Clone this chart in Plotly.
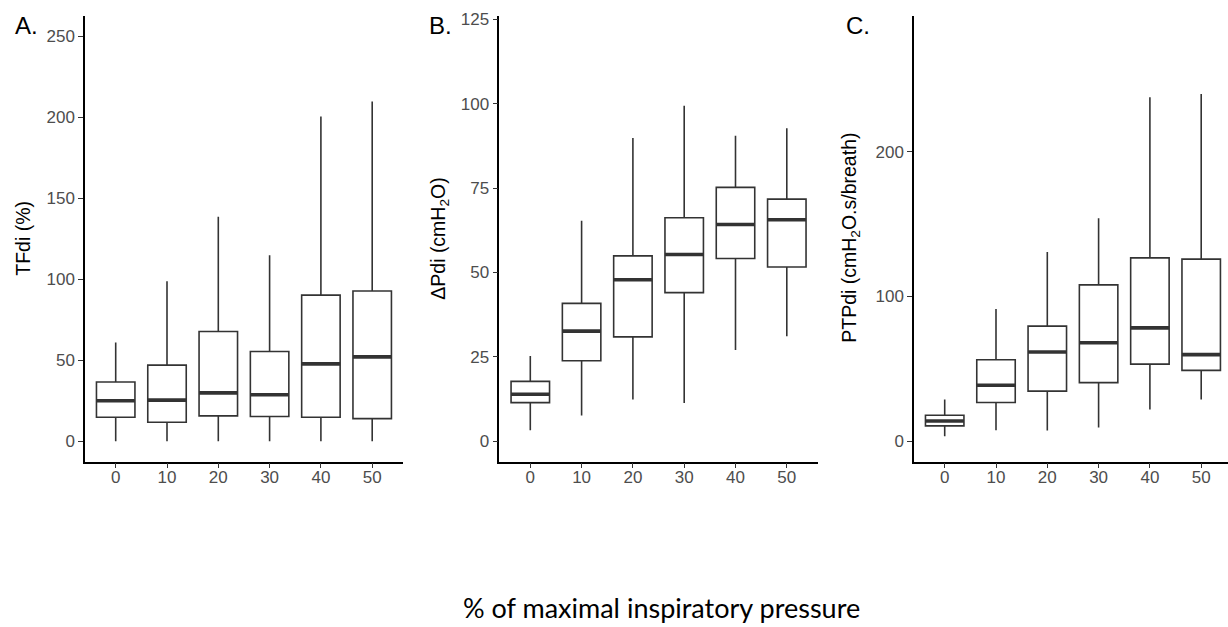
import plotly.graph_objects as go

categories = ["0", "10", "20", "30", "40", "50"]

# Panel A: TFdi (%)
tfdi_min = [0, 0, 0, 0, 0, 0]
tfdi_q1 = [14.9, 11.8, 15.7, 15.3, 14.9, 14.0]
tfdi_med = [25.0, 25.4, 29.9, 28.7, 47.8, 52.1]
tfdi_q3 = [36.6, 47.0, 67.8, 55.4, 90.2, 92.8]
tfdi_max = [61.0, 98.7, 138.6, 114.8, 200.5, 209.7]

# Panel B: ΔPdi (cmH2O)
dpdi_min = [3.2, 7.6, 12.3, 11.3, 27.0, 31.1]
dpdi_q1 = [11.4, 23.8, 30.9, 44.0, 54.1, 51.6]
dpdi_med = [13.9, 32.6, 47.8, 55.3, 64.2, 65.6]
dpdi_q3 = [17.7, 40.8, 54.9, 66.2, 75.2, 71.7]
dpdi_max = [25.2, 65.3, 89.8, 99.4, 90.5, 92.7]

# Panel C: PTPdi (cmH2O.s/breath)
ptp_min = [3.4, 7.5, 7.3, 9.4, 21.9, 28.8]
ptp_q1 = [10.5, 26.7, 34.5, 40.4, 53.2, 48.9]
ptp_med = [13.9, 38.6, 61.6, 68.0, 78.3, 59.8]
ptp_q3 = [17.8, 56.2, 79.5, 108.0, 126.7, 125.8]
ptp_max = [28.8, 91.3, 130.8, 154.1, 237.7, 240.0]

tfdi_ticks = [0, 50, 100, 150, 200, 250]
dpdi_ticks = [0, 25, 50, 75, 100, 125]
ptp_ticks = [0, 100, 200]

W, H = 1228, 627
LINE = "#333333"
BOXW = 0.75

fig = go.Figure()

panels = [
    ("x", "y", tfdi_min, tfdi_q1, tfdi_med, tfdi_q3, tfdi_max),
    ("x2", "y2", dpdi_min, dpdi_q1, dpdi_med, dpdi_q3, dpdi_max),
    ("x3", "y3", ptp_min, ptp_q1, ptp_med, ptp_q3, ptp_max),
]

idx = list(range(len(categories)))
for xa, ya, mn, q1, md, q3, mx in panels:
    fig.add_trace(go.Box(
        x=idx, q1=q1, median=md, q3=q3, lowerfence=mn, upperfence=mx,
        xaxis=xa, yaxis=ya, width=BOXW, whiskerwidth=0,
        fillcolor="white", line=dict(color=LINE, width=1.6),
        boxpoints=False, showlegend=False, hoverinfo="skip",
    ))
    # thick median segments
    mxs, mys = [], []
    for i, m in zip(idx, md):
        mxs += [i - BOXW / 2, i + BOXW / 2, None]
        mys += [m, m, None]
    fig.add_trace(go.Scatter(
        x=mxs, y=mys, mode="lines", xaxis=xa, yaxis=ya,
        line=dict(color=LINE, width=3.6), showlegend=False, hoverinfo="skip",
    ))

ydom = [(H - 460) / H, (H - 10) / H]
sp = 51.3
axis_common = dict(
    showline=True, linecolor="black", linewidth=1.5, showgrid=False, zeroline=False,
    ticks="outside", ticklen=5, tickwidth=1.3, tickcolor=LINE,
    tickfont=dict(family="Liberation Sans, Arial", size=17, color="#4D4D4D"),
)

def xaxis(left_px, right_px, first_px):
    r0 = (left_px - first_px) / sp
    return dict(domain=[left_px / W, min(right_px, W) / W],
                range=[r0, (min(right_px, W) - first_px) / sp],
                tickvals=idx, ticktext=categories, ticklabelstandoff=-6, **axis_common)

fig.update_layout(
    width=W, height=H, margin=dict(l=0, r=0, t=0, b=0),
    paper_bgcolor="white", plot_bgcolor="white",
    xaxis=xaxis(85, 403, 115.7),
    xaxis2=dict(xaxis(499.3, 817.6, 530.3), anchor="y2"),
    xaxis3=dict(xaxis(914, 1232, 944.7), anchor="y3"),
    yaxis=dict(domain=ydom, range=[-12.5, 262.5], tickvals=tfdi_ticks, anchor="x", **axis_common),
    yaxis2=dict(domain=ydom, range=[-6.07, 126.0], tickvals=dpdi_ticks, anchor="x2", **axis_common),
    yaxis3=dict(domain=ydom, range=[-14.2, 294.0], tickvals=ptp_ticks, anchor="x3", **axis_common),
)

title_font = dict(family="Liberation Sans, Arial", size=19.5, color="black")
ann = [
    dict(text="TFdi (%)", x=23 / W, y=1 - 235 / H, textangle=-90),
    dict(text="ΔPdi (cmH<sub>2</sub>O)", x=440 / W, y=1 - 235 / H, textangle=-90),
    dict(text="PTPdi (cmH<sub>2</sub>O.s/breath)", x=851 / W, y=1 - 234 / H, textangle=-90),
]
for a in ann:
    fig.add_annotation(xref="paper", yref="paper", showarrow=False,
                       xanchor="center", yanchor="middle", font=title_font, **a)

label_font = dict(family="Liberation Sans, Arial", size=24, color="black")
for txt, xc in [("A.", 26), ("B.", 440), ("C.", 858)]:
    fig.add_annotation(text=txt, xref="paper", yref="paper", x=xc / W, y=1 - 20 / H,
                       showarrow=False, xanchor="center", yanchor="middle", font=label_font)

fig.add_annotation(text="% of maximal inspiratory pressure", xref="paper", yref="paper",
                   x=661 / W, y=1 - 607 / H, showarrow=False, xanchor="center", yanchor="middle",
                   font=dict(family="Lato, Open Sans", size=27, color="black"))

fig.write_html("out.html", config={"displayModeBar": False},
               post_script="document.body.style.margin='0';document.body.style.overflow='hidden';")
